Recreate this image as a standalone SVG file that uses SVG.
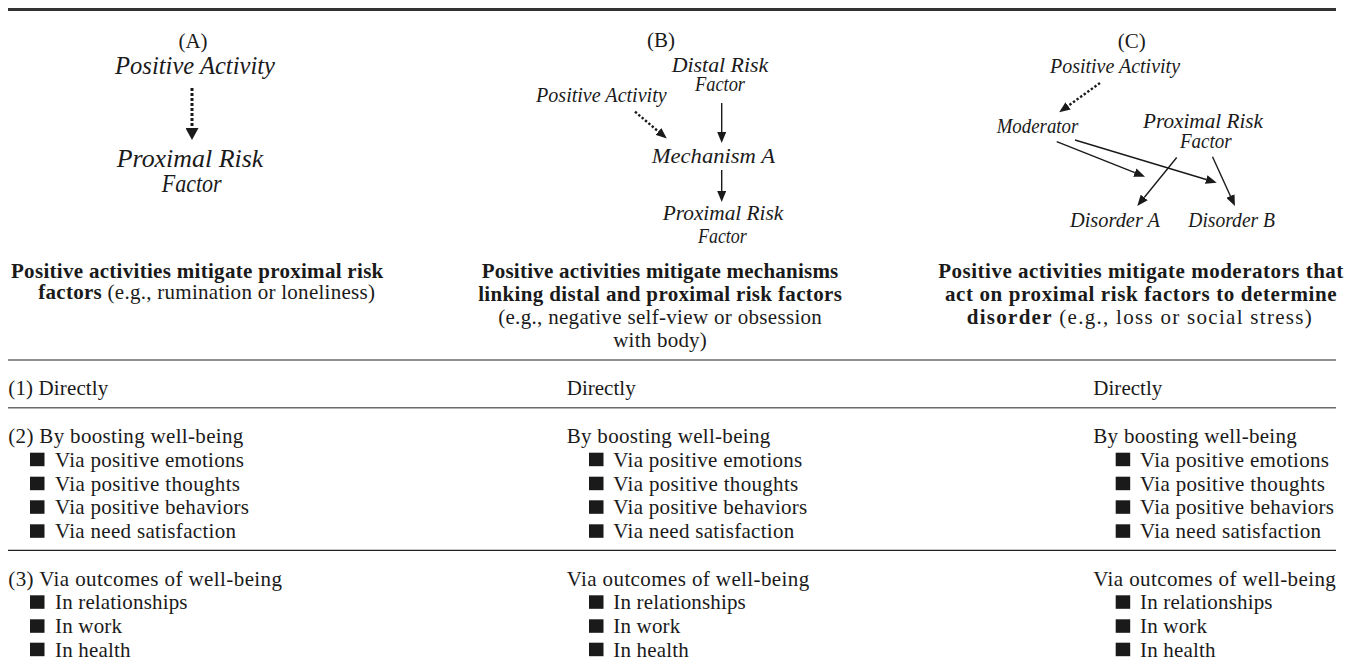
<svg xmlns="http://www.w3.org/2000/svg" width="1348" height="659" viewBox="0 0 1348 659">
<style>
  text { fill: #1a1a1a; }
  .it { font-family: "Liberation Serif", "Times New Roman", serif; font-style: italic; }
  .itA { font-size: 24.5px; }
  .itB { font-size: 20px; }
  .lab { font-family: "Liberation Serif", "Times New Roman", serif; font-size: 21px; }
  .tb { font-family: "Liberation Serif", "Times New Roman", serif; font-size: 21px; }
  .bd { font-weight: bold; }
  .mid { text-anchor: middle; }
  .sq { fill: #1a1a1a; }
  .conn { stroke: #1a1a1a; stroke-width: 1.4; fill: none; }
  .dot { stroke: #1a1a1a; fill: none; }
</style>
<defs>
  <marker id="headA" markerUnits="userSpaceOnUse" markerWidth="12" markerHeight="13" refX="0" refY="6.5" orient="auto">
    <path d="M0,0 L12,6.5 L0,13 z" fill="#1a1a1a"/>
  </marker>
  <marker id="head" markerUnits="userSpaceOnUse" markerWidth="11" markerHeight="9" refX="0" refY="4.5" orient="auto">
    <path d="M0,0 L11,4.5 L0,9 z" fill="#1a1a1a"/>
  </marker>
</defs>
<rect width="1348" height="659" fill="#ffffff"/>

<!-- rules -->
<g id="rules">
  <line x1="8" y1="9.5" x2="1336" y2="9.5" stroke="#333333" stroke-width="3"/>
  <line x1="8" y1="360" x2="1336" y2="360" stroke="#6a6a6a" stroke-width="1.6"/>
  <line x1="8" y1="407.7" x2="1336" y2="407.7" stroke="#6a6a6a" stroke-width="1.6"/>
  <line x1="8" y1="550.3" x2="1336" y2="550.3" stroke="#222222" stroke-width="1.3"/>
</g>

<!-- Panel A -->
<g id="panel-A">
  <g id="a-label"><text class="lab mid" x="193" y="48">(A)</text></g>
  <g id="a-positive-activity"><text class="it itA" x="115" y="74" textLength="160" lengthAdjust="spacingAndGlyphs">Positive Activity</text></g>
  <g id="a-proximal-risk">
    <text class="it itA" x="116.7" y="166.7" textLength="146.6" lengthAdjust="spacingAndGlyphs">Proximal Risk</text>
    <text class="it itA" x="161.7" y="191.7" textLength="60" lengthAdjust="spacingAndGlyphs">Factor</text>
  </g>
  <g id="a-caption">
    <text class="tb bd" x="11" y="277.7" textLength="372.3">Positive activities mitigate proximal risk</text>
    <text class="tb" x="38.3" y="299" textLength="336.7"><tspan class="bd">factors</tspan> (e.g., rumination or loneliness)</text>
  </g>
</g>

<!-- Panel B -->
<g id="panel-B">
  <g id="b-label"><text class="lab mid" x="661" y="47">(B)</text></g>
  <g id="b-distal-risk">
    <text class="it itB" x="671.7" y="71.7" textLength="96.6" lengthAdjust="spacingAndGlyphs">Distal Risk</text>
    <text class="it itB" x="695" y="90.7" textLength="50" lengthAdjust="spacingAndGlyphs">Factor</text>
  </g>
  <g id="b-positive-activity"><text class="it itB" x="536" y="102" textLength="130.7" lengthAdjust="spacingAndGlyphs">Positive Activity</text></g>
  <g id="b-mechanism"><text class="it itB" x="651.7" y="163.3" textLength="123.3" lengthAdjust="spacingAndGlyphs">Mechanism A</text></g>
  <g id="b-proximal-risk">
    <text class="it itB" x="662.7" y="220" textLength="120.6" lengthAdjust="spacingAndGlyphs">Proximal Risk</text>
    <text class="it itB" x="698" y="242.7" textLength="48.7" lengthAdjust="spacingAndGlyphs">Factor</text>
  </g>
  <g id="b-caption">
    <text class="tb bd mid" x="660" y="278.3" textLength="356.6">Positive activities mitigate mechanisms</text>
    <text class="tb bd mid" x="660" y="300.5" textLength="363.7">linking distal and proximal risk factors</text>
    <text class="tb mid" x="660" y="323.5" textLength="323.7">(e.g., negative self-view or obsession</text>
    <text class="tb mid" x="660" y="346.7" textLength="93.7">with body)</text>
  </g>
</g>

<!-- Panel C -->
<g id="panel-C">
  <g id="c-label"><text class="lab mid" x="1131.7" y="48">(C)</text></g>
  <g id="c-positive-activity"><text class="it itB" x="1050" y="73" textLength="130" lengthAdjust="spacingAndGlyphs">Positive Activity</text></g>
  <g id="c-moderator"><text class="it itB" x="996.7" y="133" textLength="81.6" lengthAdjust="spacingAndGlyphs">Moderator</text></g>
  <g id="c-proximal-risk">
    <text class="it itB" x="1143" y="128" textLength="120" lengthAdjust="spacingAndGlyphs">Proximal Risk</text>
    <text class="it itB" x="1180" y="148.3" textLength="51.7" lengthAdjust="spacingAndGlyphs">Factor</text>
  </g>
  <g id="c-disorder-a"><text class="it itB" x="1070" y="226.7" textLength="90" lengthAdjust="spacingAndGlyphs">Disorder A</text></g>
  <g id="c-disorder-b"><text class="it itB" x="1188.3" y="226.7" textLength="86.7" lengthAdjust="spacingAndGlyphs">Disorder B</text></g>
  <g id="c-caption">
    <text class="tb bd mid" x="1140.8" y="278.3" textLength="405">Positive activities mitigate moderators that</text>
    <text class="tb bd mid" x="1140.8" y="300.5" textLength="391.7">act on proximal risk factors to determine</text>
    <text class="tb mid" x="1139.2" y="323.5" textLength="345"><tspan class="bd">disorder</tspan> (e.g., loss or social stress)</text>
  </g>
</g>

<!-- Connectors -->
<g id="connectors">
  <line class="dot" x1="192" y1="88" x2="192" y2="128" stroke-width="3" stroke-dasharray="3 2" marker-end="url(#headA)"/>
  <line class="dot" x1="635" y1="111.7" x2="658.4" y2="131.5" stroke-width="2.4" stroke-dasharray="2.4 2" marker-end="url(#head)"/>
  <line class="conn" x1="721.7" y1="103" x2="721.7" y2="132" marker-end="url(#head)"/>
  <line class="conn" x1="721.7" y1="170" x2="721.7" y2="191" marker-end="url(#head)"/>
  <line class="dot" x1="1100" y1="83" x2="1068.1" y2="105.9" stroke-width="2.4" stroke-dasharray="2.4 2" marker-end="url(#head)"/>
  <line class="conn" x1="1056.7" y1="141.7" x2="1134.8" y2="172.6" marker-end="url(#head)"/>
  <line class="conn" x1="1075" y1="140" x2="1206.2" y2="179.5" marker-end="url(#head)"/>
  <line class="conn" x1="1176.7" y1="157.5" x2="1144.2" y2="197.5" marker-end="url(#head)"/>
  <line class="conn" x1="1212.5" y1="156.7" x2="1230.4" y2="196" marker-end="url(#head)"/>
</g>

<!-- Table: column 1 -->
<g id="table-col-1">
  <text class="tb" x="8.3" y="395" textLength="100">(1) Directly</text>
  <text class="tb" x="8.3" y="443.3" textLength="235">(2) By boosting well-being</text>
  <rect class="sq" x="30" y="452.7" width="14.5" height="13.5"/>
  <text class="tb" x="55" y="466.7" textLength="189">Via positive emotions</text>
  <rect class="sq" x="30" y="476.7" width="14.5" height="13.5"/>
  <text class="tb" x="55" y="490.7" textLength="185">Via positive thoughts</text>
  <rect class="sq" x="30" y="500.3" width="14.5" height="13.5"/>
  <text class="tb" x="55" y="514.3" textLength="194">Via positive behaviors</text>
  <rect class="sq" x="30" y="524.3" width="14.5" height="13.5"/>
  <text class="tb" x="55" y="538.3" textLength="181">Via need satisfaction</text>
  <text class="tb" x="8.3" y="586" textLength="273.7">(3) Via outcomes of well-being</text>
  <rect class="sq" x="30" y="595.3" width="14.5" height="13.5"/>
  <text class="tb" x="55" y="609.3" textLength="132.5">In relationships</text>
  <rect class="sq" x="30" y="619.3" width="14.5" height="13.5"/>
  <text class="tb" x="55" y="633.3" textLength="67">In work</text>
  <rect class="sq" x="30" y="642.7" width="14.5" height="13.5"/>
  <text class="tb" x="55" y="656.7" textLength="75.5">In health</text>
</g>

<!-- Table: column 2 -->
<g id="table-col-2">
  <text class="tb" x="566.7" y="395" textLength="69">Directly</text>
  <text class="tb" x="566.7" y="443.3" textLength="203.5">By boosting well-being</text>
  <rect class="sq" x="589" y="452.7" width="14.5" height="13.5"/>
  <text class="tb" x="613.3" y="466.7" textLength="189">Via positive emotions</text>
  <rect class="sq" x="589" y="476.7" width="14.5" height="13.5"/>
  <text class="tb" x="613.3" y="490.7" textLength="185">Via positive thoughts</text>
  <rect class="sq" x="589" y="500.3" width="14.5" height="13.5"/>
  <text class="tb" x="613.3" y="514.3" textLength="194">Via positive behaviors</text>
  <rect class="sq" x="589" y="524.3" width="14.5" height="13.5"/>
  <text class="tb" x="613.3" y="538.3" textLength="181">Via need satisfaction</text>
  <text class="tb" x="566.7" y="586" textLength="242.5">Via outcomes of well-being</text>
  <rect class="sq" x="589" y="595.3" width="14.5" height="13.5"/>
  <text class="tb" x="613.3" y="609.3" textLength="132.5">In relationships</text>
  <rect class="sq" x="589" y="619.3" width="14.5" height="13.5"/>
  <text class="tb" x="613.3" y="633.3" textLength="67">In work</text>
  <rect class="sq" x="589" y="642.7" width="14.5" height="13.5"/>
  <text class="tb" x="613.3" y="656.7" textLength="75.5">In health</text>
</g>

<!-- Table: column 3 -->
<g id="table-col-3">
  <text class="tb" x="1093.3" y="395" textLength="69">Directly</text>
  <text class="tb" x="1093.3" y="443.3" textLength="203.5">By boosting well-being</text>
  <rect class="sq" x="1115.7" y="452.7" width="14.5" height="13.5"/>
  <text class="tb" x="1140" y="466.7" textLength="189">Via positive emotions</text>
  <rect class="sq" x="1115.7" y="476.7" width="14.5" height="13.5"/>
  <text class="tb" x="1140" y="490.7" textLength="185">Via positive thoughts</text>
  <rect class="sq" x="1115.7" y="500.3" width="14.5" height="13.5"/>
  <text class="tb" x="1140" y="514.3" textLength="194">Via positive behaviors</text>
  <rect class="sq" x="1115.7" y="524.3" width="14.5" height="13.5"/>
  <text class="tb" x="1140" y="538.3" textLength="181">Via need satisfaction</text>
  <text class="tb" x="1093.3" y="586" textLength="242.5">Via outcomes of well-being</text>
  <rect class="sq" x="1115.7" y="595.3" width="14.5" height="13.5"/>
  <text class="tb" x="1140" y="609.3" textLength="132.5">In relationships</text>
  <rect class="sq" x="1115.7" y="619.3" width="14.5" height="13.5"/>
  <text class="tb" x="1140" y="633.3" textLength="67">In work</text>
  <rect class="sq" x="1115.7" y="642.7" width="14.5" height="13.5"/>
  <text class="tb" x="1140" y="656.7" textLength="75.5">In health</text>
</g>
</svg>
